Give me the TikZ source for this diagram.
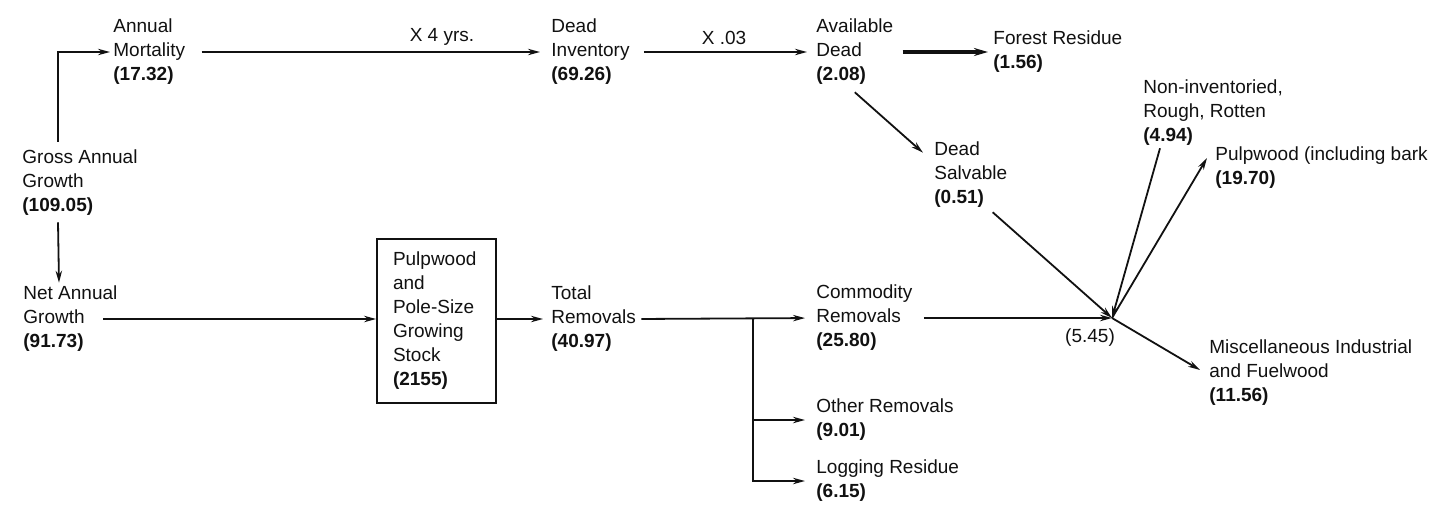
\documentclass[tikz,border=0pt]{standalone}
\usepackage{fontspec}
\setmainfont{Liberation Sans}
\usetikzlibrary{arrows.meta,positioning,calc}
\definecolor{ink}{HTML}{111111}
\newcommand{\amt}[1]{\textbf{(#1)}}
\tikzset{
  txt/.style={font=\fontsize{9.5}{12}\selectfont, align=left, inner sep=0pt, anchor=west, text=ink},
  factor/.style={txt, anchor=center},
  stockbox/.style={txt, anchor=center, draw=ink, line width=0.9pt, text width=43.5pt, inner xsep=8pt, minimum width=59.5pt, minimum height=82pt},
  flow/.style={-{Stealth[length=6pt,width=3.2pt]}, line width=0.9pt, draw=ink},
  heavyflow/.style={-{Stealth[length=7pt,width=4pt]}, line width=1.6pt, draw=ink}
}

\begin{document}
\begin{tikzpicture}[x=0.5pt,y=-0.5pt]
\useasboundingbox (0,0) rectangle (1439,515);
% growth
\node[txt] (mort) at (113,52) {Annual\\Mortality\\\amt{17.32}};
\node[txt] (gross) at (22,183) {Gross Annual\\Growth\\\amt{109.05}};
\node[txt] (net) at (23,319) {Net Annual\\Growth\\\amt{91.73}};
\node[stockbox] (stock) at (436.5,321) {Pulpwood\\and\\Pole-Size\\Growing\\Stock\\\amt{2155}};
% dead wood
\node[txt] (dinv) at (551,52) {Dead\\Inventory\\\amt{69.26}};
\node[txt] (avail) at (816,52) {Available\\Dead\\\amt{2.08}};
\node[txt] (forest) at (993,52) {Forest Residue\\\amt{1.56}};
\node[txt] (salv) at (934,175) {Dead\\Salvable\\\amt{0.51}};
% removals
\node[txt] (total) at (551,319) {Total\\Removals\\\amt{40.97}};
\node[txt] (comm) at (816,318) {Commodity\\Removals\\\amt{25.80}};
\node[txt] (other) at (816,420) {Other Removals\\\amt{9.01}};
\node[txt] (logres) at (816,481) {Logging Residue\\\amt{6.15}};
% end uses
\node[txt] (nonin) at (1143,113) {Non-inventoried,\\Rough, Rotten\\\amt{4.94}};
\node[txt] (pulp) at (1215,168) {Pulpwood (including bark\\\amt{19.70}};
\node[txt] (misc) at (1209,373) {Miscellaneous Industrial\\and Fuelwood\\\amt{11.56}};
\coordinate (J) at (1112,318);
\coordinate (split) at (753,319);
\node[factor] (jval) at (1090,338) {(5.45)};
\node[factor] (yrs) at (442,37) {X 4 yrs.};
\node[factor] (pct) at (724,38) {X .03};

\draw[flow, shorten >=1.5pt] ([xshift=18pt,yshift=4pt]gross.north west) |- (mort.west);
\draw[flow] ([xshift=18pt,yshift=-3pt]gross.south west) -- ([xshift=18pt,yshift=1.5pt]net.north west);
\draw[flow, shorten <=8pt, shorten >=5.5pt] (mort.east) -- (dinv.west);
\draw[flow] ([xshift=40pt]net.west) -- (net.west -| stock.west);
\draw[flow, shorten >=4pt] (stock.east |- total.west) -- (total.west);
\draw[flow, shorten <=2.5pt, shorten >=5.5pt] (total.east) -- (comm.west);
\draw[flow, shorten >=5.5pt] (split) |- (other.west);
\draw[flow, shorten >=5.5pt] (split) |- (logres.west);
\draw[flow, shorten <=7pt, shorten >=4.5pt] (dinv.east) -- (avail.west);
\draw[heavyflow, shorten <=4.5pt, shorten >=2.5pt] (avail.east) -- (forest.west);
\draw[flow] ([yshift=-3.5pt]avail.south) -- ([xshift=-5.5pt,yshift=-5.5pt]salv.north west);
\draw[flow] ([xshift=-7.5pt,yshift=-2pt]salv.south east) -- (J);
\draw[flow] ([xshift=8.5pt,yshift=-1pt]nonin.south west) -- (J);
\draw[flow, shorten <=5.5pt] (comm.east) -- (J);
\draw[flow] (J) -- ([xshift=-4pt,yshift=5pt]pulp.west);
\draw[flow] (J) -- ([xshift=-4.5pt,yshift=1.5pt]misc.west);
\end{tikzpicture}
\end{document}
